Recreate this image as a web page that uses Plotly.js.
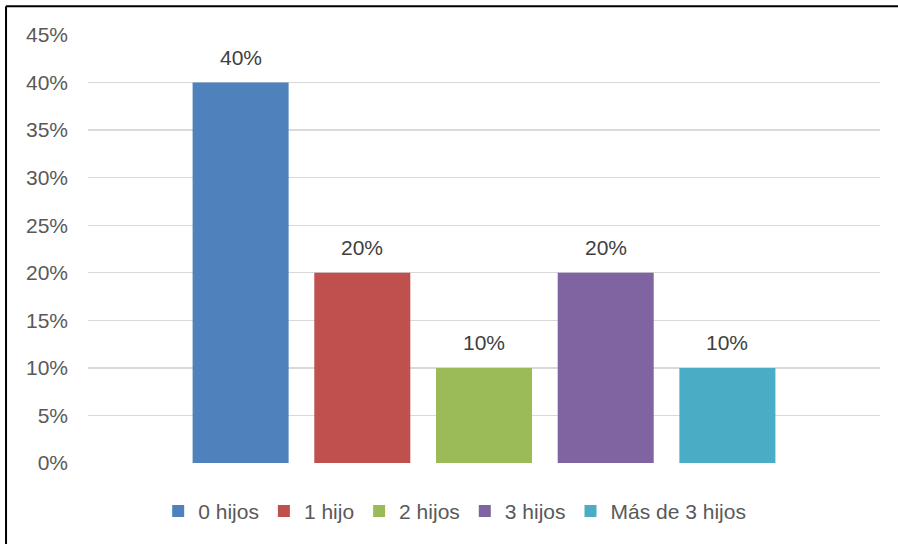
<!DOCTYPE html>
<html>
<head>
<meta charset="utf-8">
<script src="https://cdn.plot.ly/plotly-3.0.1.min.js"></script>
<style>
html,body{margin:0;padding:0;background:#fff;}
#chart{width:898px;height:544px;}
</style>
</head>
<body>
<div id="chart"></div>
<script>
const seriesNames = ['0 hijos', '1 hijo', '2 hijos', '3 hijos', 'Más de 3 hijos'];
const seriesValues = [0.40, 0.20, 0.10, 0.20, 0.10];
const seriesLabels = ['40%', '20%', '10%', '20%', '10%'];
const seriesColors = ['#4F81BD', '#C0504D', '#9BBB59', '#8064A2', '#4BACC6'];
const yTickVals = [0, 0.05, 0.10, 0.15, 0.20, 0.25, 0.30, 0.35, 0.40, 0.45];
const yTickText = ['0%', '5%', '10%', '15%', '20%', '25%', '30%', '35%', '40%', '45%'];

const fam = 'Arial, "Liberation Sans", sans-serif';
const font = {family: fam, size: 21, color: '#595959'};

const traces = seriesNames.map((name, i) => ({
  type: 'bar',
  name: name,
  x: [name],
  y: [seriesValues[i]],
  marker: {color: seriesColors[i], line: {width: 0}},
  hoverinfo: 'skip'
}));

const annotations = seriesNames.map((name, i) => ({
  xref: 'x', yref: 'y',
  x: name, y: seriesValues[i],
  text: seriesLabels[i],
  showarrow: false,
  xanchor: 'center', yanchor: 'bottom',
  yshift: 12,
  font: {family: fam, size: 21, color: '#404040'}
}));

const layout = {
  width: 898,
  height: 544,
  margin: {l: 88, r: 18, t: 35, b: 79},
  paper_bgcolor: '#ffffff',
  plot_bgcolor: '#ffffff',
  font: font,
  barmode: 'overlay',
  bargap: 0.211,
  showlegend: true,
  legend: {
    orientation: 'h',
    x: 0.463, xanchor: 'center',
    y: -0.065, yanchor: 'top',
    font: {family: fam, size: 21, color: '#595959'},
    itemwidth: 30,
    traceorder: 'normal'
  },
  xaxis: {
    type: 'category',
    range: [-1.254, 5.254],
    showticklabels: false,
    showgrid: false,
    zeroline: false,
    showline: false,
    ticks: ''
  },
  yaxis: {
    range: [0, 0.45],
    tickvals: yTickVals,
    ticktext: yTickText,
    showgrid: true,
    gridcolor: '#D9D9D9',
    gridwidth: 1.3,
    zeroline: false,
    showline: false,
    ticks: '',
    ticklabelstandoff: 19,
    tickfont: font,
    fixedrange: true
  },
  annotations: annotations,
  shapes: [
    {type: 'line', xref: 'paper', yref: 'paper', x0: -0.1035, x1: 1.03, y0: 1.067, y1: 1.067, line: {color: '#000', width: 2}},
    {type: 'line', xref: 'paper', yref: 'paper', x0: -0.1035, x1: -0.1035, y0: 1.067, y1: -0.2, line: {color: '#000', width: 2}}
  ]
};

Plotly.newPlot('chart', traces, layout, {displayModeBar: false, staticPlot: true});
</script>
</body>
</html>
